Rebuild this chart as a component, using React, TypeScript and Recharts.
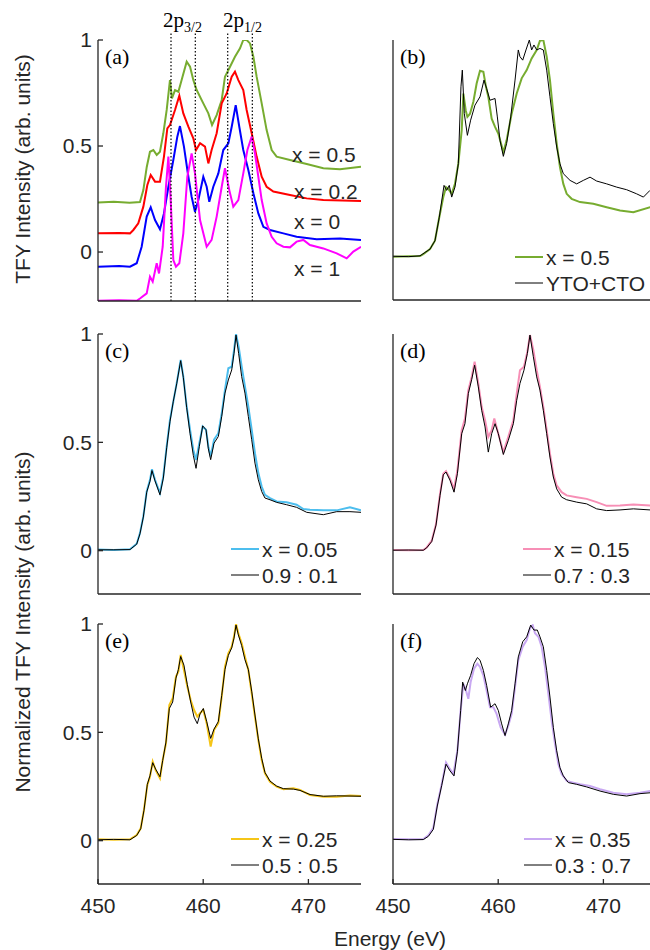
import React from 'react';
import { LineChart, Line, XAxis, YAxis, ReferenceLine } from 'recharts';

type Pt = [number, number];

const energyTicks = [450, 460, 470];
const intensityTicks = [0, 0.5, 1];
const edgeMarkers = [456.94, 459.25, 462.33, 464.67];

// (a) offset TFY spectra
const aX05: Pt[] = [[450,0.234],[451.5,0.237],[453,0.232],[453.99,0.236],[454.31,0.292],[454.63,0.4],[454.94,0.473],[455.26,0.481],[455.58,0.458],[455.89,0.473],[456.21,0.56],[456.53,0.67],[456.84,0.811],[457.03,0.725],[457.32,0.764],[457.64,0.756],[457.95,0.811],[458.43,0.898],[458.75,0.874],[459.06,0.811],[459.38,0.764],[460.01,0.701],[460.49,0.654],[460.84,0.599],[461.28,0.646],[461.76,0.717],[462.07,0.827],[462.55,0.874],[463.02,0.921],[463.5,0.961],[463.81,1.0],[464.13,1.0],[464.45,0.984],[464.77,0.921],[465.08,0.827],[465.56,0.701],[466.03,0.575],[466.51,0.481],[466.98,0.45],[468.25,0.434],[469.84,0.415],[471.42,0.395],[473.0,0.39],[475,0.402]];
const aX02: Pt[] = [[450,0.088],[452,0.09],[453.04,0.088],[453.36,0.104],[453.83,0.135],[454.31,0.214],[454.69,0.316],[455.01,0.363],[455.42,0.332],[455.89,0.332],[456.27,0.45],[456.59,0.583],[456.84,0.599],[457.32,0.67],[457.73,0.737],[458.11,0.654],[458.59,0.591],[459.06,0.536],[459.32,0.481],[459.7,0.513],[460.17,0.497],[460.49,0.418],[460.8,0.481],[461.28,0.56],[461.76,0.701],[462.23,0.748],[462.71,0.827],[463.02,0.851],[463.34,0.811],[463.81,0.764],[464.13,0.67],[464.61,0.56],[465.08,0.45],[465.56,0.355],[466.03,0.308],[466.67,0.285],[468.25,0.269],[469.84,0.253],[471.42,0.245],[475,0.241]];
const aX0: Pt[] = [[450,-0.069],[452,-0.066],[453.04,-0.069],[453.68,-0.053],[454.15,0.025],[454.63,0.167],[455.01,0.211],[455.42,0.151],[455.89,0.107],[456.27,0.182],[456.69,0.308],[457.16,0.434],[457.54,0.544],[457.79,0.594],[458.17,0.497],[458.59,0.355],[458.9,0.261],[459.22,0.19],[459.54,0.245],[460.01,0.355],[460.33,0.308],[460.58,0.237],[460.96,0.308],[461.44,0.371],[461.91,0.481],[462.39,0.513],[462.71,0.591],[463.09,0.693],[463.43,0.591],[463.81,0.481],[464.29,0.387],[464.77,0.277],[465.24,0.182],[465.72,0.119],[466.35,0.104],[467.62,0.088],[468.88,0.072],[470.79,0.06],[473.0,0.064],[475,0.057]];
const aX1: Pt[] = [[450,-0.23],[452,-0.228],[453.68,-0.23],[453.99,-0.219],[454.63,-0.195],[454.94,-0.116],[455.2,-0.14],[455.58,-0.053],[455.8,-0.101],[456.15,0.025],[456.46,0.308],[456.69,0.45],[456.91,0.245],[457.16,-0.038],[457.41,-0.069],[457.73,-0.053],[458.11,0.088],[458.49,0.355],[458.9,0.465],[459.22,0.371],[459.7,0.151],[460.33,0.025],[460.8,0.057],[461.28,0.167],[461.76,0.308],[462.07,0.395],[462.48,0.292],[462.86,0.214],[463.34,0.245],[463.81,0.371],[464.2,0.481],[464.61,0.544],[464.92,0.465],[465.24,0.355],[465.56,0.245],[466.03,0.135],[466.51,0.072],[466.98,0.041],[467.62,0.025],[468.25,0.022],[468.88,0.049],[469.52,0.057],[470.15,0.033],[471.42,0.017],[472.69,-0.006],[473.64,-0.03],[474.27,0.002],[475,0.025]];

// (b)
const bX05: Pt[] = [[450,0],[451.5,0.002],[452.57,0.003],[452.88,0.012],[453.52,0.035],[453.99,0.074],[454.4,0.182],[454.78,0.275],[455.04,0.321],[455.26,0.313],[455.58,0.29],[455.89,0.336],[456.21,0.429],[456.53,0.583],[456.69,0.753],[456.91,0.676],[457.07,0.645],[457.32,0.66],[457.64,0.715],[457.95,0.799],[458.27,0.858],[458.59,0.853],[458.84,0.784],[459.06,0.738],[459.38,0.637],[459.7,0.599],[460.01,0.568],[460.49,0.483],[460.8,0.537],[461.28,0.66],[461.76,0.753],[462.23,0.823],[462.71,0.861],[463.18,0.915],[463.66,0.954],[463.97,0.997],[464.29,1.0],[464.61,0.923],[464.92,0.815],[465.24,0.66],[465.56,0.522],[465.87,0.414],[466.19,0.336],[466.51,0.29],[466.98,0.267],[467.78,0.252],[469.04,0.244],[470.31,0.228],[471.58,0.213],[472.85,0.205],[474.43,0.228],[475,0.225]];
const bYtoCto: Pt[] = [[450,0.002],[451.5,0.0],[452.57,0.004],[453.52,0.035],[453.99,0.074],[454.4,0.182],[454.85,0.329],[455.1,0.306],[455.35,0.329],[455.58,0.275],[455.89,0.321],[456.21,0.429],[456.46,0.784],[456.59,0.861],[456.78,0.66],[457.07,0.56],[457.38,0.63],[457.79,0.699],[458.27,0.738],[458.65,0.815],[458.9,0.776],[459.22,0.722],[459.7,0.73],[459.92,0.645],[460.17,0.537],[460.49,0.463],[460.8,0.522],[461.19,0.645],[461.6,0.815],[461.91,0.954],[462.07,0.923],[462.33,0.907],[462.64,0.954],[462.96,1.0],[463.18,0.954],[463.4,0.977],[463.66,0.954],[463.97,0.961],[464.29,0.954],[464.61,0.861],[464.92,0.738],[465.24,0.614],[465.56,0.506],[465.87,0.429],[466.19,0.383],[466.83,0.352],[467.46,0.336],[468.09,0.352],[468.73,0.367],[469.36,0.349],[470.31,0.336],[471.26,0.321],[472.21,0.309],[473.16,0.29],[473.8,0.275],[474.43,0.306],[475,0.3]];

// (c)
const cX005: Pt[] = [[450,0.005],[451.5,0.003],[453.04,0.006],[453.68,0.032],[453.99,0.081],[454.31,0.158],[454.63,0.273],[454.94,0.327],[455.13,0.376],[455.42,0.327],[455.89,0.266],[456.21,0.343],[456.53,0.481],[456.84,0.604],[457.16,0.688],[457.48,0.773],[457.86,0.88],[458.11,0.803],[458.43,0.665],[458.75,0.558],[459.06,0.465],[459.32,0.419],[459.63,0.496],[459.95,0.573],[460.27,0.558],[460.49,0.481],[460.71,0.435],[461.03,0.512],[461.44,0.542],[461.76,0.634],[462.07,0.742],[462.39,0.842],[462.71,0.849],[462.93,0.926],[463.12,1.0],[463.37,0.942],[463.66,0.849],[463.97,0.757],[464.29,0.665],[464.61,0.558],[464.92,0.45],[465.24,0.358],[465.56,0.296],[465.87,0.258],[466.35,0.243],[466.98,0.227],[467.93,0.223],[468.88,0.212],[469.52,0.192],[470.15,0.189],[471.42,0.186],[472.69,0.186],[473.95,0.2],[475,0.186]];
const cMix91: Pt[] = [[450,0.004],[451.5,0.004],[453.04,0.005],[453.68,0.03],[453.99,0.078],[454.31,0.155],[454.63,0.27],[454.94,0.32],[455.13,0.37],[455.42,0.322],[455.89,0.258],[456.21,0.335],[456.53,0.475],[456.84,0.595],[457.16,0.69],[457.48,0.77],[457.86,0.877],[458.11,0.8],[458.43,0.66],[458.75,0.54],[459.06,0.44],[459.32,0.38],[459.63,0.48],[459.95,0.576],[460.27,0.558],[460.49,0.47],[460.71,0.42],[461.03,0.496],[461.44,0.527],[461.76,0.619],[462.07,0.727],[462.39,0.788],[462.71,0.834],[462.93,0.911],[463.12,0.995],[463.37,0.91],[463.66,0.803],[463.97,0.727],[464.29,0.619],[464.61,0.512],[464.92,0.404],[465.24,0.327],[465.56,0.273],[465.87,0.243],[466.35,0.235],[466.98,0.223],[467.93,0.212],[468.88,0.2],[469.84,0.177],[471.42,0.166],[472.69,0.18],[473.95,0.18],[475,0.177]];

// (d)
const dX015: Pt[] = [[450,0.003],[451.5,0.002],[452.88,0.003],[453.2,0.015],[453.68,0.046],[454.09,0.123],[454.47,0.262],[454.78,0.355],[455.04,0.367],[455.42,0.332],[455.8,0.285],[456.12,0.37],[456.53,0.556],[456.84,0.61],[457.16,0.741],[457.48,0.802],[457.76,0.872],[458.11,0.772],[458.43,0.664],[458.75,0.602],[459.06,0.525],[459.38,0.556],[459.63,0.61],[460.01,0.54],[460.49,0.455],[460.96,0.525],[461.44,0.602],[461.76,0.725],[462.07,0.833],[462.45,0.849],[462.77,0.918],[463.02,0.995],[463.34,0.926],[463.66,0.833],[463.97,0.756],[464.29,0.664],[464.61,0.556],[464.92,0.448],[465.24,0.355],[465.56,0.301],[466.03,0.27],[466.51,0.255],[467.46,0.247],[468.41,0.239],[469.36,0.224],[470.31,0.207],[471.58,0.208],[472.85,0.213],[474.43,0.208],[475,0.21]];
const dMix73: Pt[] = [[450,0.002],[451.5,0.003],[452.88,0.002],[453.2,0.013],[453.68,0.042],[454.09,0.118],[454.47,0.255],[454.78,0.35],[455.04,0.363],[455.42,0.325],[455.8,0.27],[456.12,0.355],[456.53,0.54],[456.84,0.586],[457.16,0.725],[457.48,0.79],[457.76,0.856],[458.11,0.756],[458.43,0.648],[458.75,0.571],[459.06,0.455],[459.38,0.54],[459.7,0.586],[460.01,0.54],[460.49,0.444],[460.96,0.509],[461.44,0.586],[461.76,0.694],[462.07,0.772],[462.45,0.833],[462.77,0.91],[463.02,0.995],[463.34,0.895],[463.66,0.802],[463.97,0.741],[464.29,0.648],[464.61,0.54],[464.92,0.432],[465.24,0.34],[465.56,0.285],[466.03,0.247],[466.51,0.235],[467.46,0.224],[468.41,0.216],[469.36,0.193],[470.31,0.185],[471.58,0.188],[472.85,0.193],[474.43,0.188],[475,0.19]];

// (e)
const eX025: Pt[] = [[450,0.006],[451.5,0.004],[453.04,0.006],[453.68,0.026],[454.06,0.057],[454.37,0.142],[454.69,0.257],[454.94,0.295],[455.2,0.365],[455.48,0.326],[455.89,0.288],[456.15,0.372],[456.46,0.449],[456.78,0.626],[457.1,0.657],[457.41,0.757],[457.64,0.78],[457.86,0.857],[458.17,0.788],[458.49,0.711],[458.81,0.649],[459.13,0.603],[459.44,0.572],[459.7,0.588],[460.01,0.603],[460.33,0.542],[460.71,0.434],[461.03,0.511],[461.44,0.542],[461.76,0.665],[462.07,0.803],[462.39,0.865],[462.71,0.895],[462.93,0.942],[463.12,1.0],[463.34,0.957],[463.66,0.911],[463.97,0.849],[464.29,0.788],[464.61,0.68],[464.92,0.572],[465.24,0.465],[465.56,0.372],[465.87,0.311],[466.35,0.272],[466.98,0.249],[467.62,0.237],[468.57,0.242],[469.2,0.234],[470.15,0.211],[471.42,0.203],[472.69,0.203],[473.95,0.209],[475,0.206]];
const eMix55: Pt[] = [[450,0.004],[451.5,0.006],[453.04,0.004],[453.68,0.024],[454.06,0.055],[454.37,0.14],[454.69,0.26],[454.94,0.3],[455.2,0.36],[455.48,0.33],[455.89,0.295],[456.15,0.37],[456.46,0.455],[456.78,0.61],[457.1,0.64],[457.41,0.75],[457.64,0.79],[457.86,0.85],[458.17,0.81],[458.49,0.72],[458.81,0.64],[459.13,0.57],[459.44,0.54],[459.7,0.585],[460.01,0.61],[460.33,0.55],[460.71,0.472],[461.03,0.515],[461.44,0.55],[461.76,0.67],[462.07,0.79],[462.39,0.855],[462.71,0.89],[462.93,0.935],[463.12,0.995],[463.34,0.95],[463.66,0.9],[463.97,0.835],[464.29,0.79],[464.61,0.69],[464.92,0.58],[465.24,0.47],[465.56,0.38],[465.87,0.315],[466.35,0.275],[466.98,0.252],[467.62,0.24],[468.57,0.238],[469.2,0.232],[470.15,0.213],[471.42,0.205],[472.69,0.207],[473.95,0.206],[475,0.205]];

// (f)
const fX035: Pt[] = [[450,0.008],[451.5,0.006],[452.88,0.008],[453.36,0.025],[453.83,0.059],[454.21,0.167],[454.63,0.26],[455.04,0.361],[455.42,0.33],[455.74,0.307],[456.12,0.415],[456.43,0.601],[456.69,0.724],[456.94,0.693],[457.16,0.655],[457.38,0.732],[457.7,0.794],[458.02,0.817],[458.27,0.802],[458.59,0.763],[458.9,0.693],[459.22,0.616],[459.54,0.616],[459.85,0.585],[460.23,0.523],[460.65,0.489],[460.96,0.531],[461.28,0.585],[461.6,0.709],[461.91,0.833],[462.33,0.895],[462.71,0.926],[463.02,0.98],[463.28,0.995],[463.5,0.957],[463.82,0.941],[464.13,0.895],[464.45,0.802],[464.77,0.678],[465.08,0.554],[465.4,0.446],[465.72,0.353],[466.03,0.307],[466.51,0.276],[467.14,0.268],[467.78,0.26],[468.73,0.252],[469.68,0.237],[470.94,0.221],[472.21,0.214],[473.48,0.221],[474.43,0.229],[475,0.226]];
const fMix37: Pt[] = [[450,0.006],[451.5,0.004],[452.88,0.005],[453.36,0.02],[453.83,0.052],[454.21,0.16],[454.63,0.255],[455.04,0.353],[455.42,0.322],[455.8,0.299],[456.12,0.41],[456.43,0.6],[456.62,0.732],[456.88,0.693],[457.07,0.724],[457.38,0.763],[457.7,0.817],[458.02,0.845],[458.27,0.833],[458.59,0.786],[458.9,0.717],[459.28,0.616],[459.7,0.632],[460.01,0.601],[460.33,0.539],[460.65,0.485],[460.96,0.539],[461.28,0.601],[461.6,0.724],[461.91,0.848],[462.33,0.918],[462.71,0.941],[463.09,0.995],[463.4,0.972],[463.72,0.972],[463.97,0.941],[464.29,0.895],[464.61,0.786],[464.92,0.663],[465.24,0.523],[465.56,0.415],[465.87,0.337],[466.19,0.299],[466.67,0.268],[467.46,0.26],[468.41,0.248],[469.68,0.229],[470.94,0.214],[472.21,0.206],[473.48,0.217],[474.43,0.221],[475,0.22]];

const FRAME = '#262626';
const SANS = '"Liberation Sans", Arial, Helvetica, sans-serif';
const SERIF = '"Liberation Serif", "Times New Roman", serif';
const PLOT_W = 263;
const TOP_PAD = 20;

const toRows = (pts: Pt[]) => pts.map(([e, v]) => ({ e, v }));

interface Series { pts: Pt[]; color: string; width: number; }

interface PanelProps {
  left: number;
  top: number;
  height: number;
  yMin: number;
  series: Series[];
  showY: boolean;
  showX: boolean;
  markers?: number[];
}

const Panel = ({ left, top, height, yMin, series, showY, showX, markers }: PanelProps) => {
  const tickFont = { fill: FRAME, fontSize: 21, fontFamily: SANS };
  return (
    <div style={{ position: 'absolute', left: left - 50, top: top - TOP_PAD }}>
      <LineChart width={PLOT_W + 60} height={height + TOP_PAD + 45} margin={{ top: TOP_PAD, right: 10, bottom: 0, left: 0 }}>
        <XAxis xAxisId={0} dataKey="e" type="number" domain={[450, 475]} ticks={energyTicks} interval={0}
          allowDataOverflow height={45} tickSize={-5} tickMargin={19} stroke={FRAME} strokeWidth={1.3}
          tick={showX ? tickFont : false} />
        <XAxis xAxisId="top" orientation="top" mirror type="number" domain={[450, 475]} ticks={energyTicks}
          interval={0} height={0} tickSize={5} stroke={FRAME} strokeWidth={1.3} tick={false} />
        <YAxis yAxisId={0} type="number" domain={[yMin, 1]} ticks={intensityTicks} interval={0} allowDataOverflow
          width={50} tickSize={-5} tickMargin={11} stroke={FRAME} strokeWidth={1.3}
          tick={showY ? tickFont : false} />
        <YAxis yAxisId="right" orientation="right" mirror type="number" domain={[yMin, 1]} ticks={intensityTicks}
          interval={0} width={0} tickSize={5} stroke={FRAME} strokeWidth={1.3} tick={false} />
        {series.map((s, i) => (
          <Line key={i} data={toRows(s.pts)} dataKey="v" xAxisId={0} yAxisId={0} stroke={s.color}
            strokeWidth={s.width} dot={false} isAnimationActive={false} type="linear" />
        ))}
        {(markers || []).map((m) => (
          <ReferenceLine key={m} xAxisId={0} yAxisId={0} ifOverflow="visible"
            segment={[{ x: m, y: yMin }, { x: m, y: 1.04 }]}
            stroke="#000" strokeWidth={1.2} strokeDasharray="1.5 2" />
        ))}
      </LineChart>
    </div>
  );
};

const LegendRows = ({ x, y, rows }: { x: number; y: number; rows: { color: string; width: number; label: string }[] }) => (
  <g>
    {rows.map((r, i) => (
      <g key={i}>
        <line x1={x} x2={x + 28} y1={y + i * 26} y2={y + i * 26} stroke={r.color} strokeWidth={r.width} />
        <text x={x + 31} y={y + i * 26} dominantBaseline="central" fontSize={21} fontFamily={SANS} fill={FRAME}>{r.label}</text>
      </g>
    ))}
  </g>
);

export default function App() {
  const green = '#77ac30';
  const lineW = 2;
  return (
    <div style={{ position: 'absolute', left: 0, top: 0, width: 650, height: 950, overflow: 'hidden', background: '#fff' }}>
      <Panel left={98} top={40} height={261} yMin={-0.231} showY showX={false} markers={edgeMarkers}
        series={[
          { pts: aX05, color: green, width: lineW },
          { pts: aX02, color: '#ff0000', width: lineW },
          { pts: aX0, color: '#0000ff', width: lineW },
          { pts: aX1, color: '#ff00ff', width: lineW },
        ]} />
      <Panel left={393} top={40} height={260} yMin={-0.2} showY={false} showX={false}
        series={[
          { pts: bX05, color: green, width: lineW },
          { pts: bYtoCto, color: '#000', width: 1 },
        ]} />
      <Panel left={98} top={334} height={260} yMin={-0.2} showY showX={false}
        series={[
          { pts: cX005, color: '#4dbeee', width: lineW },
          { pts: cMix91, color: '#000', width: 1 },
        ]} />
      <Panel left={393} top={334} height={260} yMin={-0.2} showY={false} showX={false}
        series={[
          { pts: dX015, color: '#f78fb6', width: lineW },
          { pts: dMix73, color: '#000', width: 1 },
        ]} />
      <Panel left={98} top={624} height={260} yMin={-0.2} showY showX
        series={[
          { pts: eX025, color: '#f5c518', width: lineW },
          { pts: eMix55, color: '#000', width: 1 },
        ]} />
      <Panel left={393} top={624} height={260} yMin={-0.2} showY={false} showX
        series={[
          { pts: fX035, color: '#c8a8f2', width: lineW },
          { pts: fMix37, color: '#000', width: 1 },
        ]} />

      <svg width={650} height={950} style={{ position: 'absolute', left: 0, top: 0, pointerEvents: 'none' }}>
        <text x={163} y={27} fontFamily={SERIF} fontSize={21} fill="#000">2p<tspan fontSize={14} dy={5}>3/2</tspan></text>
        <text x={223} y={27} fontFamily={SERIF} fontSize={21} fill="#000">2p<tspan fontSize={14} dy={5}>1/2</tspan></text>

        {[['(a)', 105, 56], ['(b)', 400, 56], ['(c)', 105, 350], ['(d)', 400, 350], ['(e)', 105, 640], ['(f)', 400, 640]].map(([t, x, y]) => (
          <text key={t as string} x={x as number} y={y as number} dominantBaseline="central" fontFamily={SERIF} fontSize={22} fill="#000">{t}</text>
        ))}

        <g fontFamily={SANS} fontSize={21} fill={FRAME}>
          <text x={292} y={154} dominantBaseline="central">x = 0.5</text>
          <text x={294} y={191} dominantBaseline="central">x = 0.2</text>
          <text x={294} y={221} dominantBaseline="central">x = 0</text>
          <text x={294} y={268} dominantBaseline="central">x = 1</text>
        </g>

        <LegendRows x={515} y={257} rows={[{ color: green, width: 2, label: 'x = 0.5' }, { color: '#000', width: 1, label: 'YTO+CTO' }]} />
        <LegendRows x={231} y={549} rows={[{ color: '#4dbeee', width: 2, label: 'x = 0.05' }, { color: '#000', width: 1, label: '0.9 : 0.1' }]} />
        <LegendRows x={523} y={549} rows={[{ color: '#f78fb6', width: 2, label: 'x = 0.15' }, { color: '#000', width: 1, label: '0.7 : 0.3' }]} />
        <LegendRows x={231} y={839} rows={[{ color: '#f5c518', width: 2, label: 'x = 0.25' }, { color: '#000', width: 1, label: '0.5 : 0.5' }]} />
        <LegendRows x={524} y={839} rows={[{ color: '#c8a8f2', width: 2, label: 'x = 0.35' }, { color: '#000', width: 1, label: '0.3 : 0.7' }]} />

        <text x={22} y={169} transform="rotate(-90 22 169)" textAnchor="middle" dominantBaseline="central" fontFamily={SANS} fontSize={21} fill={FRAME}>TFY Intensity (arb. units)</text>
        <text x={22} y={622} transform="rotate(-90 22 622)" textAnchor="middle" dominantBaseline="central" fontFamily={SANS} fontSize={21} fill={FRAME}>Normalized TFY Intensity (arb. units)</text>
        <text x={390} y={938} textAnchor="middle" dominantBaseline="central" fontFamily={SANS} fontSize={21} fill={FRAME}>Energy (eV)</text>
      </svg>
    </div>
  );
}
